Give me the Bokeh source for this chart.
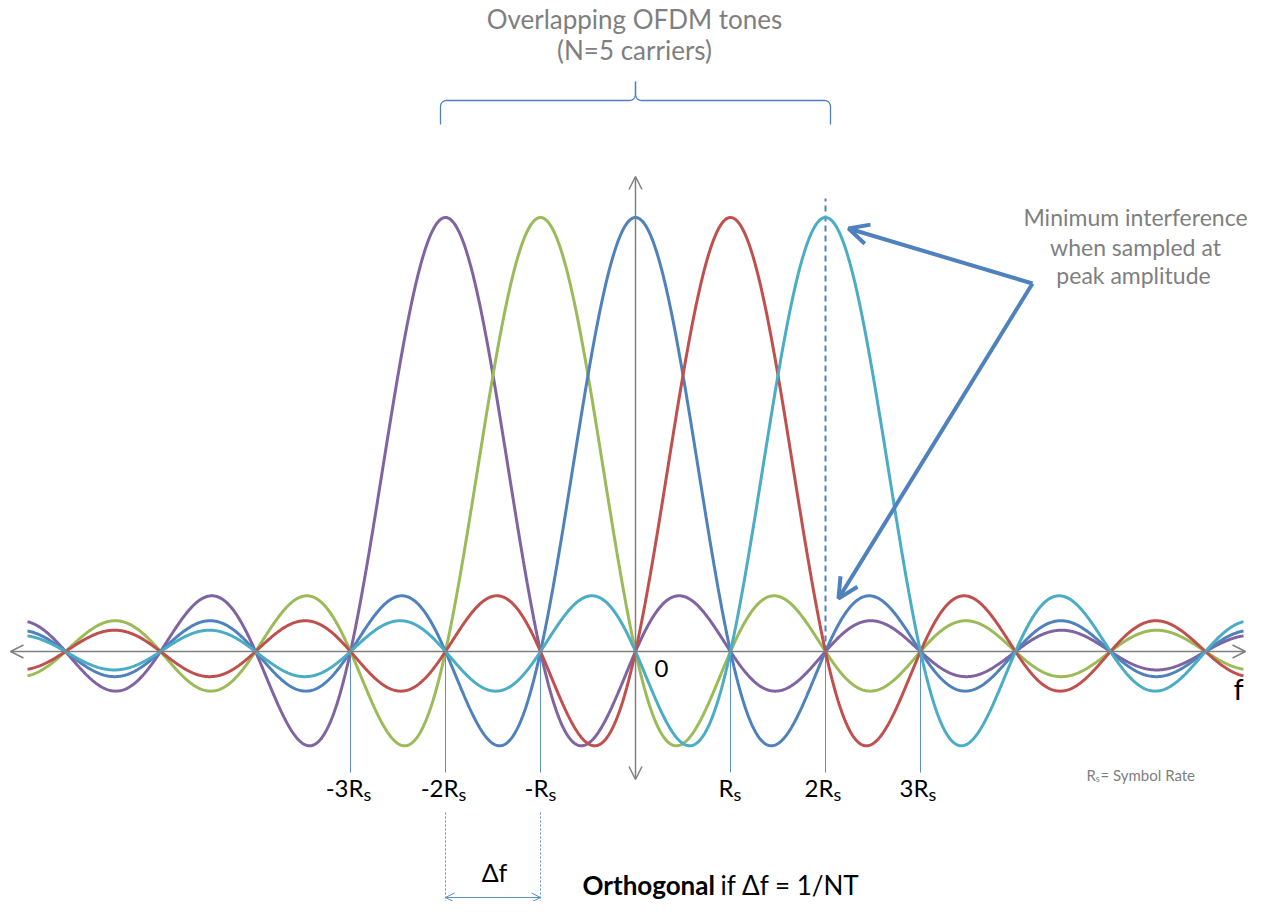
import numpy as np
from bokeh.plotting import figure
from bokeh.models import Arrow, OpenHead, Label, ColumnDataSource
from bokeh.core.properties import value
from bokeh.embed import file_html
from bokeh.resources import INLINE

# ---------------- data ----------------
carrier_offsets = [-2, -1, 0, 1, 2]          # carrier centres, in units of Rs
carrier_colors = ["#8064A2", "#9BBB59", "#4F81BD", "#C0504D", "#4BACC6"]
f_min, f_max = -6.4, 6.4                      # plotted frequency span (Rs)
tick_positions = [-3, -2, -1, 1, 2, 3]
tick_labels = ["-3R", "-2R", "-R", "R", "2R", "3R"]
tick_subscripts = ["s", "s", "s", "s", "s", "s"]
sampled_carrier = 2
spacing_pair = [-2, -1]

# ---------------- layout helpers (reference pixel -> data) ----------------
W, H = 1247, 901
X0PX, XS = 635.0, 95.0
Y0PX, YS = 651.0, 434.0
TXT = 10.0   # text baseline correction (px)
def dx(px): return (px - X0PX) / XS
def dy(py): return (Y0PX - py) / YS
def ty(py): return dy(py - TXT)

FONT = "Lato"
GREY = "#7F7F7F"
AXIS = "#808080"
BLUE = "#4F81BD"
LBLUE = "#5B8FD0"

p = figure(width=W, height=H, x_range=(dx(0), dx(W)), y_range=(dy(H), dy(0)),
           output_backend="svg", toolbar_location=None, min_border=0,
           x_axis_type=None, y_axis_type=None, outline_line_color=None,
           background_fill_color="white", border_fill_color="white")
p.grid.visible = False

# ---------------- axes arrows ----------------
p.add_layout(Arrow(start=OpenHead(size=13, line_color=AXIS, line_width=1.5),
                   end=OpenHead(size=13, line_color=AXIS, line_width=1.5),
                   x_start=dx(10), y_start=0, x_end=dx(1245), y_end=0,
                   line_color=AXIS, line_width=1.5))
p.add_layout(Arrow(start=OpenHead(size=13, line_color=AXIS, line_width=1.5),
                   end=OpenHead(size=13, line_color=AXIS, line_width=1.5),
                   x_start=0, y_start=dy(779), x_end=0, y_end=dy(176),
                   line_color=AXIS, line_width=1.5))

# ---------------- tick lines ----------------
p.segment(x0=tick_positions, y0=[0] * len(tick_positions), x1=tick_positions,
          y1=[dy(772)] * len(tick_positions), line_color=LBLUE, line_width=1)
p.segment(x0=spacing_pair, y0=[dy(812)] * 2, x1=spacing_pair, y1=[dy(930)] * 2,
          line_color=LBLUE, line_width=1, line_dash="2 2")
p.segment(x0=[sampled_carrier], y0=[0], x1=[sampled_carrier], y1=[dy(198)],
          line_color=BLUE, line_width=2, line_dash="6 4")

# ---------------- sinc spectra ----------------
f = np.linspace(f_min, f_max, 1600)
for c, col in zip(carrier_offsets, carrier_colors):
    p.line(f, np.sinc(f - c), line_color=col, line_width=3)

# ---------------- tick labels with subscript ----------------
offs = [5 * len(t) - 2 for t in tick_labels]
src = ColumnDataSource(dict(x=tick_positions, y=[ty(797)] * 6, t=tick_labels, off=offs,
                            ys=[ty(803)] * 6, s=tick_subscripts))
p.text(x="x", y="y", text="t", x_offset="off", source=src, text_align="right",
       text_baseline="alphabetic", text_font=value(FONT), text_font_size="24px",
       text_color="black")
p.text(x="x", y="ys", text="s", x_offset="off", source=src, text_align="left",
       text_baseline="alphabetic", text_font=value(FONT), text_font_size="18px",
       text_color="black")

def lab(x, y, text, size, color="black", align="center", style="normal"):
    p.add_layout(Label(x=x, y=y, text=text, text_font=FONT, text_font_size=size,
                       text_color=color, text_align=align, text_baseline="alphabetic",
                       text_font_style=style))

lab(dx(661), ty(678), "0", "24px")
lab(dx(1238), ty(698), "f", "29px")

# ---------------- top brace + title ----------------
def arc(cx, cy, r, a0, a1, n=10):
    t = np.linspace(a0, a1, n)
    return list(cx + r * np.cos(t)), list(cy + r * np.sin(t))

bx, by = [440.0], [124.0]
ax_, ay_ = arc(446, 106, 6, np.pi, 1.5 * np.pi)
bx += ax_; by += ay_
ax_, ay_ = arc(629, 94, 6, 0.5 * np.pi, 0.0)
bx += ax_; by += ay_
bx += [635.0]; by += [81.0]
bx = np.array(bx); by = np.array(by)
for xs in (bx, 2 * 635 - bx):
    p.line(dx(xs), dy(by), line_color=BLUE, line_width=1.3)

lab(dx(634), ty(28), "Overlapping OFDM tones", "26px", GREY)
lab(dx(634), ty(59), "(N=5 carriers)", "26px", GREY)

# ---------------- annotation ----------------
lab(dx(1135), ty(226), "Minimum interference", "23px", GREY)
lab(dx(1135), ty(256), "when sampled at", "23px", GREY)
lab(dx(1133), ty(284), "peak amplitude", "23px", GREY)
for tx, tyy in ((848, 228), (838, 598)):
    p.add_layout(Arrow(end=OpenHead(size=20, line_color=BLUE, line_width=4),
                       x_start=dx(1032), y_start=dy(283), x_end=dx(tx), y_end=dy(tyy),
                       line_color=BLUE, line_width=4))

# ---------------- symbol rate note ----------------
lab(dx(1086), ty(784), "R", "15px", GREY, "left")
lab(dx(1095), ty(787), "s", "10px", GREY, "left")
lab(dx(1100), ty(784), "= Symbol Rate", "15px", GREY, "left")

# ---------------- spacing / orthogonality ----------------
p.add_layout(Arrow(start=OpenHead(size=9, line_color=LBLUE, line_width=1),
                   end=OpenHead(size=9, line_color=LBLUE, line_width=1),
                   x_start=spacing_pair[0], y_start=dy(897), x_end=spacing_pair[1], y_end=dy(897),
                   line_color=LBLUE, line_width=1))
lab(dx(494), ty(881), "Δf", "25px")
lab(dx(582), ty(894), "Orthogonal", "26px", "black", "left", "bold")
lab(dx(720), ty(894), "if Δf = 1/NT", "26px", "black", "left")

open("out.html", "w").write(file_html(p, INLINE))
